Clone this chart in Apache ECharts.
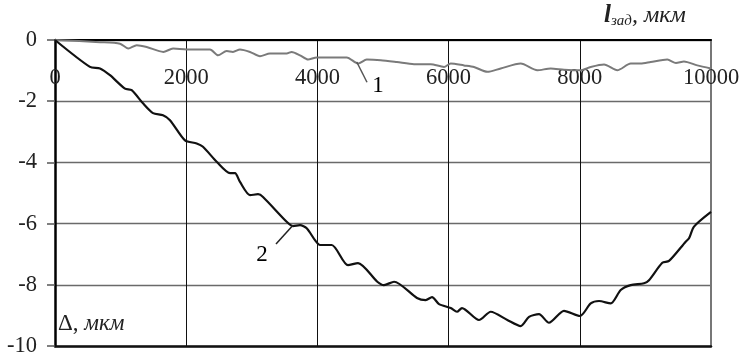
<!DOCTYPE html>
<html>
<head>
<meta charset="utf-8">
<script src="https://cdn.jsdelivr.net/npm/echarts@6/dist/echarts.min.js"></script>
<style>
  html, body { margin: 0; padding: 0; background: #fff; }
  #chart { width: 744px; height: 360px; }
</style>
</head>
<body>
<div id="chart"></div>
<script>
// Set length l_зад (мкм) and the two deviation curves Δ (мкм)
const curve1 = [
  [0, 0], [686, -0.07], [991, -0.12], [1117, -0.28], [1245, -0.17], [1398, -0.23],
  [1651, -0.39], [1799, -0.28], [2008, -0.31], [2363, -0.31], [2485, -0.50],
  [2617, -0.36], [2713, -0.39], [2820, -0.31], [2973, -0.39], [3125, -0.53],
  [3277, -0.44], [3532, -0.44], [3608, -0.39], [3735, -0.50], [3857, -0.64],
  [3989, -0.57], [4447, -0.57], [4623, -0.77], [4752, -0.64], [4965, -0.66],
  [5213, -0.72], [5473, -0.79], [5727, -0.79], [5930, -0.88], [6032, -0.77],
  [6235, -0.83], [6387, -0.88], [6590, -1.04], [6794, -0.93], [7099, -0.77],
  [7352, -0.99], [7556, -0.93], [7759, -0.97], [8003, -0.99], [8166, -0.88],
  [8369, -0.80], [8572, -0.99], [8776, -0.77], [8928, -0.77], [9081, -0.72],
  [9334, -0.64], [9466, -0.75], [9588, -0.70], [9791, -0.83], [10000, -0.93]
];
const curve2 = [
  [0, 0], [533, -0.88], [686, -0.93], [838, -1.15], [1067, -1.59], [1169, -1.64],
  [1341, -2.07], [1494, -2.39], [1646, -2.46], [1753, -2.62], [1982, -3.28],
  [2160, -3.38], [2256, -3.49], [2465, -3.98], [2668, -4.35], [2744, -4.35],
  [2820, -4.64], [2973, -5.07], [3095, -5.04], [3171, -5.13], [3532, -5.94],
  [3628, -6.08], [3735, -6.05], [3837, -6.15], [3963, -6.54], [4040, -6.70],
  [4218, -6.70], [4466, -7.36], [4619, -7.29], [4913, -7.90], [5015, -8.01],
  [5168, -7.90], [5518, -8.43], [5651, -8.50], [5747, -8.40], [5854, -8.63],
  [6032, -8.76], [6128, -8.88], [6204, -8.76], [6463, -9.15], [6642, -8.88],
  [6895, -9.15], [7099, -9.35], [7226, -9.05], [7378, -8.96], [7530, -9.24],
  [7759, -8.85], [8003, -9.02], [8166, -8.61], [8293, -8.53], [8471, -8.61],
  [8624, -8.17], [8776, -8.01], [8979, -7.95], [9055, -7.85], [9258, -7.28],
  [9360, -7.22], [9614, -6.59], [9665, -6.48], [9741, -6.10], [10000, -5.62]
];
const xTicks = [0, 2000, 4000, 6000, 8000, 10000];
const yTicks = [0, -2, -4, -6, -8, -10];

// Callout leaders: [from, to] in data units, and the number placed beside each
const leader1 = [[4600, -0.72], [4756, -1.38]];
const leader2 = [[3628, -6.05], [3369, -6.67]];
const tag1 = [4924, -1.50];
const tag2 = [3155, -7.03];

const serif = "'Liberation Serif', 'Times New Roman', serif";
const chart = echarts.init(document.getElementById('chart'), null, { renderer: 'canvas' });

const leaderLine = (pts, color) => ({
  silent: true,
  symbol: ['none', 'none'],
  label: { show: false },
  lineStyle: { color: color, width: 1.5, type: 'solid' },
  data: [[{ coord: pts[0] }, { coord: pts[1] }]],
  animation: false
});
const tagPoint = (pt, text) => ({
  silent: true,
  symbol: 'circle',
  symbolSize: 0,
  label: { show: true, position: 'inside', formatter: text, color: '#000',
           fontFamily: serif, fontSize: 23 },
  data: [{ coord: pt }],
  animation: false
});

chart.setOption({
  animation: false,
  backgroundColor: '#fff',
  grid: { left: 55, right: 33, top: 40, bottom: 14 },
  xAxis: [{
    type: 'value', position: 'top', min: 0, max: 10000, interval: 2000,
    axisLine: { show: true, onZero: false, lineStyle: { color: '#000', width: 2 } },
    axisTick: { show: false },
    splitLine: { show: true, lineStyle: { color: '#111', width: 1 } },
    axisLabel: {
      inside: true, margin: 27, color: '#222', fontFamily: serif, fontSize: 22.5,
      customValues: xTicks, formatter: v => String(v)
    }
  }, {
    type: 'value', position: 'bottom', min: 0, max: 10000,
    axisLine: { show: true, onZero: false, lineStyle: { color: '#111', width: 2.5 } },
    axisTick: { show: false }, axisLabel: { show: false }, splitLine: { show: false }
  }],
  yAxis: [{
    type: 'value', min: -10, max: 0, interval: 2,
    axisLine: { show: true, onZero: false, lineStyle: { color: '#000', width: 2.5 } },
    axisTick: { show: true, length: 8, lineStyle: { color: '#555', width: 1.5 } },
    splitLine: { show: true, lineStyle: { color: '#6a6a6a', width: 1.3 } },
    axisLabel: {
      margin: 18, color: '#222', fontFamily: serif, fontSize: 22.5,
      customValues: yTicks, formatter: v => String(v)
    }
  }, {
    type: 'value', position: 'right', min: -10, max: 0,
    axisLine: { show: true, onZero: false, lineStyle: { color: '#777', width: 2 } },
    axisTick: { show: false }, axisLabel: { show: false }, splitLine: { show: false }
  }],
  series: [{
    name: '1', type: 'line', data: curve1, showSymbol: false, smooth: 0.25,
    lineStyle: { color: '#7a7a7a', width: 2 },
    markLine: leaderLine(leader1, '#555'),
    markPoint: tagPoint(tag1, '1'),
    z: 3
  }, {
    name: '2', type: 'line', data: curve2, showSymbol: false, smooth: 0.25,
    lineStyle: { color: '#111', width: 2.2 },
    markLine: leaderLine(leader2, '#222'),
    markPoint: tagPoint(tag2, '2'),
    z: 4
  }],
  graphic: [{
    type: 'text', left: 604, top: 3,
    style: {
      text: '{l|l}{s|зад}{n|, мкм}',
      rich: {
        l: { fontFamily: serif, fontStyle: 'italic', fontWeight: 'bold', fontSize: 25, fill: '#222' },
        s: { fontFamily: serif, fontStyle: 'italic', fontSize: 15, fill: '#222', padding: [11, 0, 0, 0] },
        n: { fontFamily: serif, fontStyle: 'italic', fontSize: 24, fill: '#222' }
      }
    }
  }, {
    type: 'text', left: 58, top: 312,
    style: {
      text: '{d|Δ, }{n|мкм}',
      rich: {
        d: { fontFamily: serif, fontSize: 23, fill: '#222' },
        n: { fontFamily: serif, fontStyle: 'italic', fontSize: 23, fill: '#222' }
      }
    }
  }]
});
</script>
</body>
</html>
